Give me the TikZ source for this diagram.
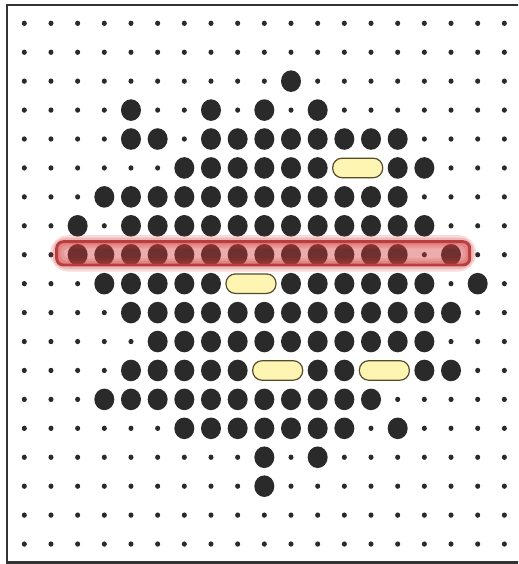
\documentclass[tikz,border=0pt]{standalone}
\usepackage{tikz}

\definecolor{dotgray}{RGB}{42,42,42}
\definecolor{pillfill}{RGB}{255,245,178}
\definecolor{pillline}{RGB}{85,75,45}
\definecolor{rowred}{RGB}{212,58,58}
\definecolor{rowline}{RGB}{185,62,62}

\tikzset{
    smalldot/.style={fill=dotgray},
    bigdot/.style={fill=dotgray},
    pill/.style={fill=pillfill, draw=pillline, line width=0.9pt, rounded corners=7pt},
}

\begin{document}
\begin{tikzpicture}[x=0.75pt, y=-0.75pt]
\clip (0,0) rectangle (518,564);
\useasboundingbox (0,0) rectangle (518,564);

% frame
\draw[line width=1.6pt, black!80] (7.3,5) rectangle (530,562.5);

% small dots everywhere
\foreach \r in {0,...,18}{
    \foreach \c in {0,...,18}{
        \fill[smalldot] ({24.3+26.67*\c},{23.3+28.93*\r})
            ellipse [x radius=1.9pt, y radius=2pt];
    }
}

% big dots, row/columns
\foreach \r/\cols in {2/{10}, 3/{4,7,9,11}, 4/{4,5,7,8,...,14},
                      5/{6,...,11,14,15}, 6/{3,...,14}, 7/{2,4,5,...,15},
                      8/{2,...,14,16}, 9/{3,...,7,10,11,...,15,17},
                      10/{4,...,16}, 11/{5,...,15},
                      12/{4,...,8,11,12,15,16}, 13/{3,...,13},
                      14/{6,...,12,14}, 15/{9,11}, 16/{9}}{
    \foreach \c in \cols{
        \fill[bigdot] ({24.3+26.67*\c},{23.3+28.93*\r})
            ellipse [x radius=7.5pt, y radius=8.1pt];
    }
}

% pills
\foreach \r/\c in {5/12.5, 9/8.5, 12/9.5, 12/13.5}{
    \draw[pill] ({24.3+26.67*\c-25},{23.3+28.93*\r-9.75})
        rectangle ({24.3+26.67*\c+25},{23.3+28.93*\r+9.75});
}

% highlighted row
\draw[line width=10pt, rowred, opacity=0.18, rounded corners=9pt]
    (56.7,241.7) rectangle (469.7,265);
\draw[line width=6pt, rowred, opacity=0.22, rounded corners=7pt]
    (56.7,241.7) rectangle (469.7,265);
\fill[rowred, opacity=0.42, rounded corners=5pt]
    (56.7,241.7) rectangle (469.7,265);
\draw[line width=2.2pt, rowline, rounded corners=5pt]
    (56.7,241.7) rectangle (469.7,265);
\end{tikzpicture}
\end{document}
